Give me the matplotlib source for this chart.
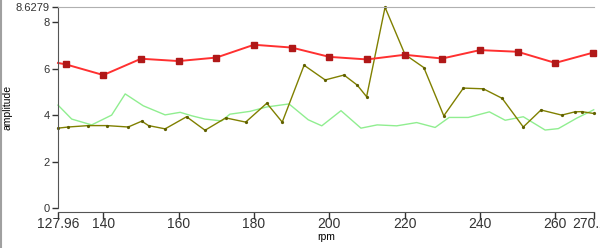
import matplotlib
matplotlib.use('Agg')
import matplotlib.pyplot as plt
from matplotlib.lines import Line2D

# red series (square markers every 10 rpm)
red_rpm = [127.96, 130, 140, 150, 160, 170, 180, 190, 200, 210, 220, 230, 240, 250, 260, 270]
red_amp = [6.24, 6.18, 5.72, 6.42, 6.32, 6.47, 7.02, 6.90, 6.50, 6.39, 6.59, 6.43, 6.79, 6.72, 6.24, 6.68]

# olive series
olive_rpm = [127.96, 130.7, 136.0, 140.9, 146.6, 150.2, 152.0, 156.4, 162.1, 167.0, 172.5, 177.8,
             183.4, 187.5, 193.3, 198.9, 203.9, 207.4, 209.9, 214.8, 220.1, 225.1, 230.4, 235.6,
             240.9, 245.9, 251.5, 256.2, 261.7, 265.2, 267.0, 270.2]
olive_amp = [3.44, 3.49, 3.55, 3.55, 3.49, 3.74, 3.55, 3.41, 3.93, 3.35, 3.88, 3.70,
             4.51, 3.70, 6.14, 5.51, 5.72, 5.29, 4.79, 8.6279, 6.60, 6.04, 3.97, 5.16,
             5.13, 4.72, 3.49, 4.22, 4.00, 4.14, 4.15, 4.07]

# light green series
green_rpm = [127.96, 131.6, 136.9, 142.2, 145.8, 150.6, 156.4, 160.4, 163.5, 167.0, 171.4, 173.6,
             178.9, 183.4, 189.3, 194.4, 198.0, 203.1, 208.4, 212.7, 217.9, 223.2, 228.1, 231.8,
             236.9, 242.5, 246.7, 251.5, 257.3, 260.8, 265.7, 270.2]
green_amp = [4.43, 3.83, 3.58, 4.00, 4.91, 4.40, 4.01, 4.12, 3.97, 3.83, 3.75, 4.04,
             4.16, 4.35, 4.48, 3.80, 3.54, 4.19, 3.44, 3.58, 3.54, 3.68, 3.47, 3.90,
             3.90, 4.14, 3.78, 3.93, 3.36, 3.42, 3.87, 4.23]

x_min, x_max = 127.96, 270.28
y_max = 8.6279
xticks = [127.96, 140, 160, 180, 200, 220, 240, 260, 270.28]
xtick_labels = ['127.96', '140', '160', '180', '200', '220', '240', '260', '270.28']
yticks = [0, 2, 4, 6, 8, 8.6279]
ytick_labels = ['0', '2', '4', '6', '8', '8.6279']

plt.rcParams['font.family'] = ['Liberation Sans', 'DejaVu Sans']
fig = plt.figure(figsize=(6.0, 2.48), dpi=100)
ax = fig.add_axes([58 / 600, 1 - 208.3 / 248, (594 - 58) / 600, (208.3 - 7.3) / 248])

ax.plot(green_rpm, green_amp, color='#90ee90', lw=1.0, clip_on=False)
ax.plot(olive_rpm, olive_amp, color='#808000', lw=1.0, marker='o', ms=1.3,
        mfc='#606000', mec='#606000', clip_on=False)
ax.plot(red_rpm, red_amp, color='#ff3030', lw=1.4, marker='s', ms=3.8,
        mfc='#b01818', mec='#b01818', markevery=list(range(1, len(red_rpm))), clip_on=False)

ax.set_xlim(x_min, x_max)
ax.set_ylim(0, y_max)
ax.set_xticks(xticks)
ax.set_xticklabels(xtick_labels, fontsize=8)
ax.set_yticks(yticks)
ax.set_yticklabels(ytick_labels, fontsize=8)
ax.tick_params(axis='both', direction='out', length=4, width=1, colors='#333333', pad=2)
ax.tick_params(axis='x', length=5, pad=-1.5)

ax.spines['right'].set_visible(False)
ax.spines['top'].set_color('#b0b0b0')
ax.spines['left'].set_color('#555555')
ax.spines['bottom'].set_color('#555555')
ax.spines['bottom'].set_position(('outward', 3))

ax.set_xlabel('rpm', fontsize=7.5)
ax.xaxis.set_label_coords(0.5, (208.3 - 232) / 201)
ax.set_ylabel('amplitude', fontsize=7.5)
ax.yaxis.set_label_coords((13 - 58) / 536, 0.5)

# panel border on the left edge
fig.add_artist(Line2D([0.002, 0.002], [0, 1], transform=fig.transFigure, color='#a0a0a0', lw=1.5))

fig.savefig('out.png', dpi=100)
